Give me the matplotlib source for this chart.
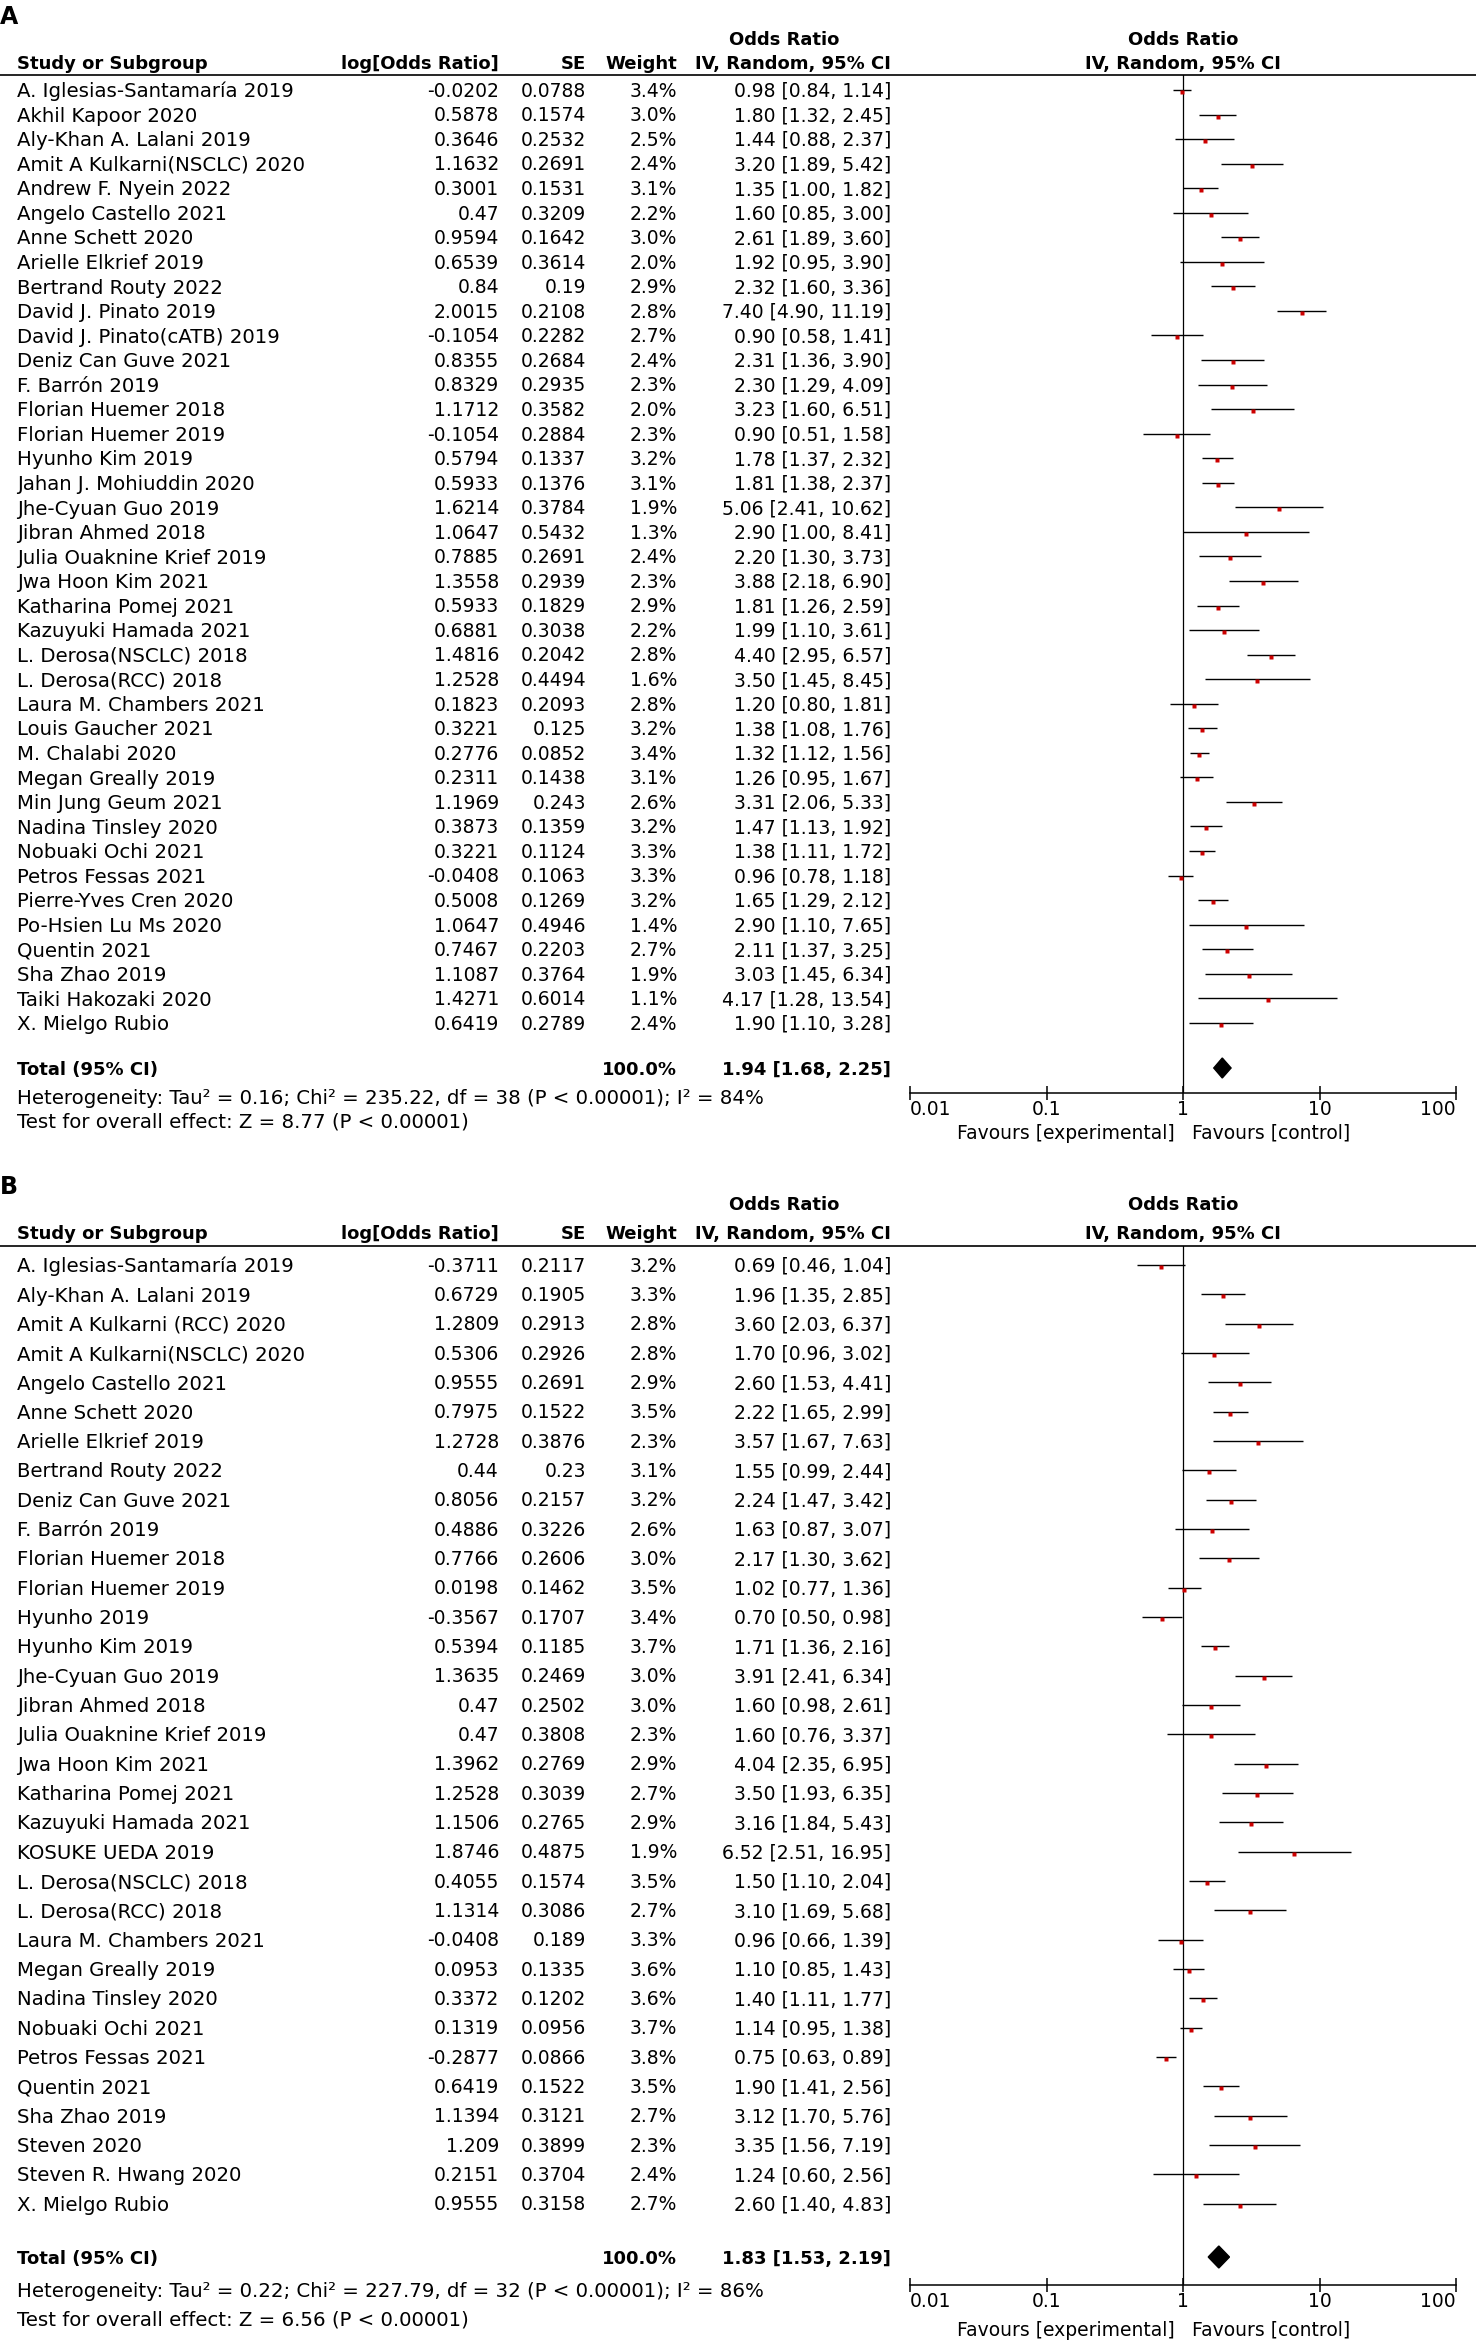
import numpy as np
import matplotlib
matplotlib.use("Agg")
import matplotlib.pyplot as plt
from matplotlib.patches import Polygon
from matplotlib.ticker import NullLocator

plt.rcParams['font.family'] = ['DejaVu Sans']

W, H = 1476, 2343

# ---------------- panel A data ----------------
a_study = ["A. Iglesias-Santamaría 2019", "Akhil Kapoor 2020", "Aly-Khan A. Lalani 2019",
           "Amit A Kulkarni(NSCLC) 2020", "Andrew F. Nyein 2022", "Angelo Castello 2021",
           "Anne Schett 2020", "Arielle Elkrief 2019", "Bertrand Routy 2022",
           "David J. Pinato 2019", "David J. Pinato(cATB) 2019", "Deniz Can Guve 2021",
           "F. Barrón 2019", "Florian Huemer 2018", "Florian Huemer 2019", "Hyunho Kim 2019",
           "Jahan J. Mohiuddin 2020", "Jhe-Cyuan Guo 2019", "Jibran Ahmed 2018",
           "Julia Ouaknine Krief 2019", "Jwa Hoon Kim 2021", "Katharina Pomej 2021",
           "Kazuyuki Hamada 2021", "L. Derosa(NSCLC) 2018", "L. Derosa(RCC) 2018",
           "Laura M. Chambers 2021", "Louis Gaucher 2021", "M. Chalabi 2020",
           "Megan Greally 2019", "Min Jung Geum 2021", "Nadina Tinsley 2020",
           "Nobuaki Ochi 2021", "Petros Fessas 2021", "Pierre-Yves Cren 2020",
           "Po-Hsien Lu Ms 2020", "Quentin 2021", "Sha Zhao 2019", "Taiki Hakozaki 2020",
           "X. Mielgo Rubio"]
a_logor = [-0.0202, 0.5878, 0.3646, 1.1632, 0.3001, 0.47, 0.9594, 0.6539, 0.84, 2.0015,
           -0.1054, 0.8355, 0.8329, 1.1712, -0.1054, 0.5794, 0.5933, 1.6214, 1.0647, 0.7885,
           1.3558, 0.5933, 0.6881, 1.4816, 1.2528, 0.1823, 0.3221, 0.2776, 0.2311, 1.1969,
           0.3873, 0.3221, -0.0408, 0.5008, 1.0647, 0.7467, 1.1087, 1.4271, 0.6419]
a_se = [0.0788, 0.1574, 0.2532, 0.2691, 0.1531, 0.3209, 0.1642, 0.3614, 0.19, 0.2108,
        0.2282, 0.2684, 0.2935, 0.3582, 0.2884, 0.1337, 0.1376, 0.3784, 0.5432, 0.2691,
        0.2939, 0.1829, 0.3038, 0.2042, 0.4494, 0.2093, 0.125, 0.0852, 0.1438, 0.243,
        0.1359, 0.1124, 0.1063, 0.1269, 0.4946, 0.2203, 0.3764, 0.6014, 0.2789]
a_weight = [3.4, 3.0, 2.5, 2.4, 3.1, 2.2, 3.0, 2.0, 2.9, 2.8, 2.7, 2.4, 2.3, 2.0, 2.3, 3.2,
            3.1, 1.9, 1.3, 2.4, 2.3, 2.9, 2.2, 2.8, 1.6, 2.8, 3.2, 3.4, 3.1, 2.6, 3.2, 3.3,
            3.3, 3.2, 1.4, 2.7, 1.9, 1.1, 2.4]
a_or = [0.98, 1.80, 1.44, 3.20, 1.35, 1.60, 2.61, 1.92, 2.32, 7.40, 0.90, 2.31, 2.30, 3.23,
        0.90, 1.78, 1.81, 5.06, 2.90, 2.20, 3.88, 1.81, 1.99, 4.40, 3.50, 1.20, 1.38, 1.32,
        1.26, 3.31, 1.47, 1.38, 0.96, 1.65, 2.90, 2.11, 3.03, 4.17, 1.90]
a_lo = [0.84, 1.32, 0.88, 1.89, 1.00, 0.85, 1.89, 0.95, 1.60, 4.90, 0.58, 1.36, 1.29, 1.60,
        0.51, 1.37, 1.38, 2.41, 1.00, 1.30, 2.18, 1.26, 1.10, 2.95, 1.45, 0.80, 1.08, 1.12,
        0.95, 2.06, 1.13, 1.11, 0.78, 1.29, 1.10, 1.37, 1.45, 1.28, 1.10]
a_hi = [1.14, 2.45, 2.37, 5.42, 1.82, 3.00, 3.60, 3.90, 3.36, 11.19, 1.41, 3.90, 4.09, 6.51,
        1.58, 2.32, 2.37, 10.62, 8.41, 3.73, 6.90, 2.59, 3.61, 6.57, 8.45, 1.81, 1.76, 1.56,
        1.67, 5.33, 1.92, 1.72, 1.18, 2.12, 7.65, 3.25, 6.34, 13.54, 3.28]
a_total = [1.94, 1.68, 2.25]
a_het = "Heterogeneity: Tau² = 0.16; Chi² = 235.22, df = 38 (P < 0.00001); I² = 84%"
a_test = "Test for overall effect: Z = 8.77 (P < 0.00001)"

# ---------------- panel B data ----------------
b_study = ["A. Iglesias-Santamaría 2019", "Aly-Khan A. Lalani 2019", "Amit A Kulkarni (RCC) 2020",
           "Amit A Kulkarni(NSCLC) 2020", "Angelo Castello 2021", "Anne Schett 2020",
           "Arielle Elkrief 2019", "Bertrand Routy 2022", "Deniz Can Guve 2021",
           "F. Barrón 2019", "Florian Huemer 2018", "Florian Huemer 2019", "Hyunho 2019",
           "Hyunho Kim 2019", "Jhe-Cyuan Guo 2019", "Jibran Ahmed 2018",
           "Julia Ouaknine Krief 2019", "Jwa Hoon Kim 2021", "Katharina Pomej 2021",
           "Kazuyuki Hamada 2021", "KOSUKE UEDA 2019", "L. Derosa(NSCLC) 2018",
           "L. Derosa(RCC) 2018", "Laura M. Chambers 2021", "Megan Greally 2019",
           "Nadina Tinsley 2020", "Nobuaki Ochi 2021", "Petros Fessas 2021", "Quentin 2021",
           "Sha Zhao 2019", "Steven 2020", "Steven R. Hwang 2020", "X. Mielgo Rubio"]
b_logor = [-0.3711, 0.6729, 1.2809, 0.5306, 0.9555, 0.7975, 1.2728, 0.44, 0.8056, 0.4886,
           0.7766, 0.0198, -0.3567, 0.5394, 1.3635, 0.47, 0.47, 1.3962, 1.2528, 1.1506,
           1.8746, 0.4055, 1.1314, -0.0408, 0.0953, 0.3372, 0.1319, -0.2877, 0.6419, 1.1394,
           1.209, 0.2151, 0.9555]
b_se = [0.2117, 0.1905, 0.2913, 0.2926, 0.2691, 0.1522, 0.3876, 0.23, 0.2157, 0.3226,
        0.2606, 0.1462, 0.1707, 0.1185, 0.2469, 0.2502, 0.3808, 0.2769, 0.3039, 0.2765,
        0.4875, 0.1574, 0.3086, 0.189, 0.1335, 0.1202, 0.0956, 0.0866, 0.1522, 0.3121,
        0.3899, 0.3704, 0.3158]
b_weight = [3.2, 3.3, 2.8, 2.8, 2.9, 3.5, 2.3, 3.1, 3.2, 2.6, 3.0, 3.5, 3.4, 3.7, 3.0, 3.0,
            2.3, 2.9, 2.7, 2.9, 1.9, 3.5, 2.7, 3.3, 3.6, 3.6, 3.7, 3.8, 3.5, 2.7, 2.3, 2.4, 2.7]
b_or = [0.69, 1.96, 3.60, 1.70, 2.60, 2.22, 3.57, 1.55, 2.24, 1.63, 2.17, 1.02, 0.70, 1.71,
        3.91, 1.60, 1.60, 4.04, 3.50, 3.16, 6.52, 1.50, 3.10, 0.96, 1.10, 1.40, 1.14, 0.75,
        1.90, 3.12, 3.35, 1.24, 2.60]
b_lo = [0.46, 1.35, 2.03, 0.96, 1.53, 1.65, 1.67, 0.99, 1.47, 0.87, 1.30, 0.77, 0.50, 1.36,
        2.41, 0.98, 0.76, 2.35, 1.93, 1.84, 2.51, 1.10, 1.69, 0.66, 0.85, 1.11, 0.95, 0.63,
        1.41, 1.70, 1.56, 0.60, 1.40]
b_hi = [1.04, 2.85, 6.37, 3.02, 4.41, 2.99, 7.63, 2.44, 3.42, 3.07, 3.62, 1.36, 0.98, 2.16,
        6.34, 2.61, 3.37, 6.95, 6.35, 5.43, 16.95, 2.04, 5.68, 1.39, 1.43, 1.77, 1.38, 0.89,
        2.56, 5.76, 7.19, 2.56, 4.83]
b_total = [1.83, 1.53, 2.19]
b_het = "Heterogeneity: Tau² = 0.22; Chi² = 227.79, df = 32 (P < 0.00001); I² = 86%"
b_test = "Test for overall effect: Z = 6.56 (P < 0.00001)"

tick_vals = [0.01, 0.1, 1, 10, 100]
tick_labels = ["0.01", "0.1", "1", "10", "100"]

# ---------------- layout (pixels) ----------------
X_NAME, X_LOG, X_SE, X_WT, X_CI, X_ORHDR = 17, 499, 586, 677, 891, 784
FX0, FX1 = 910, 1456
FS, FSB, FSN = 13.5, 13, 14.2   # numbers, bold headers, names/footnotes

lay_a = dict(label_y=15, hdr1_y=38, hdr2_y=62, rule_y=75, row0=90, sp=24.55,
             total_y=1068, het_y=1097, test_y=1120, axis_y=1093.5, fav_y=1132)
lay_b = dict(label_y=1185, hdr1_y=1203, hdr2_y=1232, rule_y=1246, row0=1265, sp=29.33,
             total_y=2257, het_y=2290, test_y=2318, axis_y=2285, fav_y=2329)


def base(y, pt):
    # baseline so that the cap height is centred on y
    return y + 0.729 * pt * 100 / 72 / 2


fig = plt.figure(figsize=(W / 100, H / 100), dpi=100)
ax0 = fig.add_axes([0, 0, 1, 1])
ax0.set_xlim(0, W)
ax0.set_ylim(H, 0)
ax0.axis('off')


def txt(x, y, s, ha='left', bold=False, size=None):
    pt = size if size else (FSB if bold else FS)
    ax0.text(x, base(y, pt), s, ha=ha, va='baseline', fontsize=pt,
             fontweight='bold' if bold else 'normal', color='black')


def draw_panel(label, lay, study, logor, se, weight, orr, lo, hi, total, het, test):
    ys = lay['row0'] + lay['sp'] * np.arange(len(study))

    txt(0, lay['label_y'], label, bold=True, size=17)
    txt(X_ORHDR, lay['hdr1_y'], "Odds Ratio", ha='center', bold=True)
    txt((FX0 + FX1) / 2, lay['hdr1_y'], "Odds Ratio", ha='center', bold=True)
    txt(X_NAME, lay['hdr2_y'], "Study or Subgroup", bold=True)
    txt(X_LOG, lay['hdr2_y'], "log[Odds Ratio]", ha='right', bold=True)
    txt(X_SE, lay['hdr2_y'], "SE", ha='right', bold=True)
    txt(X_WT, lay['hdr2_y'], "Weight", ha='right', bold=True)
    txt(X_CI, lay['hdr2_y'], "IV, Random, 95% CI", ha='right', bold=True)
    txt((FX0 + FX1) / 2, lay['hdr2_y'], "IV, Random, 95% CI", ha='center', bold=True)
    ax0.plot([0, W], [lay['rule_y'], lay['rule_y']], color='black', lw=1.2)

    for i, y in enumerate(ys):
        txt(X_NAME, y, study[i], size=FSN)
        txt(X_LOG, y, f"{logor[i]}", ha='right')
        txt(X_SE, y, f"{se[i]}", ha='right')
        txt(X_WT, y, f"{weight[i]:.1f}%", ha='right')
        txt(X_CI, y, f"{orr[i]:.2f} [{lo[i]:.2f}, {hi[i]:.2f}]", ha='right')

    ty = lay['total_y']
    txt(X_NAME, ty, "Total (95% CI)", bold=True)
    txt(X_WT, ty, "100.0%", ha='right', bold=True)
    txt(X_CI, ty, f"{total[0]:.2f} [{total[1]:.2f}, {total[2]:.2f}]", ha='right', bold=True)
    txt(X_NAME, lay['het_y'], het, size=FSN)
    txt(X_NAME, lay['test_y'], test, size=FSN)

    # forest plot
    fa = fig.add_axes([FX0 / W, 1 - lay['axis_y'] / H, (FX1 - FX0) / W,
                       (lay['axis_y'] - lay['rule_y']) / H])
    fa.set_xscale('log')
    fa.set_xlim(0.01, 100)
    fa.set_ylim(lay['axis_y'], lay['rule_y'])
    fa.patch.set_alpha(0)
    for s in ['top', 'left', 'right']:
        fa.spines[s].set_visible(False)
    fa.spines['bottom'].set_linewidth(1.1)
    fa.set_yticks([])
    fa.set_xticks(tick_vals)
    fa.set_xticklabels(tick_labels, fontsize=FS)
    fa.xaxis.set_minor_locator(NullLocator())
    fa.tick_params(axis='x', direction='inout', length=9.4, width=1.1, pad=0)
    lbls = fa.get_xticklabels()
    lbls[0].set_ha('left')
    lbls[-1].set_ha('right')

    fa.axvline(1, color='black', lw=0.9)
    fa.hlines(ys, lo, hi, color='black', lw=1.0)
    fa.plot(orr, ys + 2, 's', color='#cc0000', ms=3.2, mec='none')
    hh = 10 if lay['sp'] < 27 else 11
    fa.add_patch(Polygon([(total[1], ty), (total[0], ty - hh), (total[2], ty),
                          (total[0], ty + hh)], closed=True, color='black'))

    x_one = FX0 + (FX1 - FX0) * 0.5
    txt(x_one - 8, lay['fav_y'], "Favours [experimental]", ha='right')
    txt(x_one + 9, lay['fav_y'], "Favours [control]")


draw_panel("A", lay_a, a_study, a_logor, a_se, a_weight, a_or, a_lo, a_hi,
           a_total, a_het, a_test)
draw_panel("B", lay_b, b_study, b_logor, b_se, b_weight, b_or, b_lo, b_hi,
           b_total, b_het, b_test)

fig.savefig("out.png", dpi=100, facecolor='white')
